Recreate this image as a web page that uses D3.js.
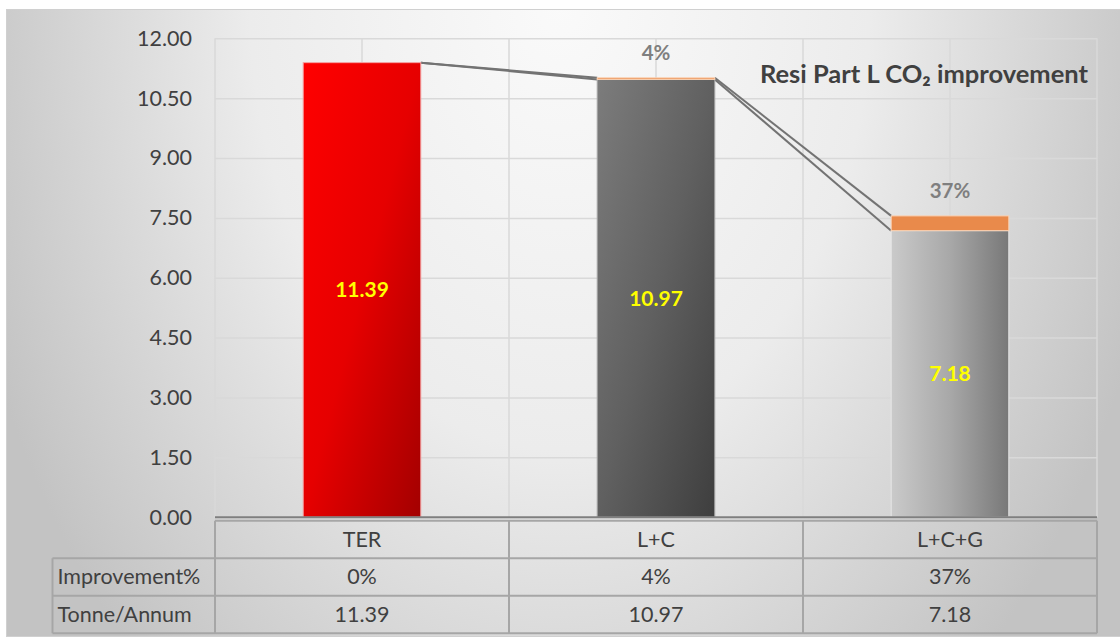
<!DOCTYPE html>
<html>
<head>
<meta charset="utf-8">
<script src="https://cdn.jsdelivr.net/npm/d3@7"></script>
<style>
  body { margin: 0; background: #fff; }
  text { font-family: Lato, "Noto Sans", sans-serif; }
</style>
</head>
<body>
<div id="chart"></div>
<script>
// chart values
var categories = ["TER", "L+C", "L+C+G"];
var tonnes = [11.39, 10.97, 7.18];
var improvement = [0, 0.04, 0.37];
var improvementLabels = ["0%", "4%", "37%"];
var yTicks = [0, 1.5, 3, 4.5, 6, 7.5, 9, 10.5, 12];
var rowLabels = ["Improvement%", "Tonne/Annum"];
var title = "Resi Part L CO\u2082 improvement";

var svg = d3.select("#chart").append("svg")
  .attr("width", 1120)
  .attr("height", 639);

var margin = {top: 38.3, left: 215, right: 23, bottom: 122};
var width = 1120 - margin.left - margin.right,
    height = 639 - margin.top - margin.bottom;

var defs = svg.append("defs");

// chart area background
var bg = defs.append("radialGradient")
  .attr("id", "bg")
  .attr("gradientUnits", "userSpaceOnUse")
  .attr("cx", 0).attr("cy", 0).attr("r", 1)
  .attr("gradientTransform", "translate(560,0) scale(620,900)");
bg.append("stop").attr("offset", "0").attr("stop-color", "#fafafa");
bg.append("stop").attr("offset", "0.5").attr("stop-color", "#ececec");
bg.append("stop").attr("offset", "1").attr("stop-color", "#c3c3c3");

function grad(id, x2, y2, stops) {
  var g = defs.append("linearGradient").attr("id", id)
    .attr("x1", 0).attr("y1", 0).attr("x2", x2).attr("y2", y2);
  stops.forEach(function(s) {
    g.append("stop").attr("offset", s[0]).attr("stop-color", s[1]);
  });
}
grad("red", 1, 1, [[0, "#ff0000"], [0.5, "#e60000"], [1, "#a30000"]]);
grad("dark", 1, 1, [[0, "#7c7c7c"], [0.5, "#606060"], [1, "#3e3e3e"]]);
grad("light", 1, 0, [[0, "#cacaca"], [0.5, "#a8a8a8"], [1, "#787878"]]);

var barFill = ["url(#red)", "url(#dark)", "url(#light)"];
var barStroke = ["#f4a3a3", "#a8a8a8", "#e6e6e6"];

svg.append("rect")
  .attr("x", 6.5).attr("y", 9.5)
  .attr("width", 1120).attr("height", 627)
  .attr("fill", "url(#bg)")
  .attr("stroke", "#d0d0d0");

var g = svg.append("g").attr("transform", "translate(" + margin.left + "," + margin.top + ")");

var x = d3.scaleBand()
  .domain(categories)
  .range([0, width])
  .paddingInner(0.6)
  .paddingOuter(0.3);

var xCat = d3.scaleBand()
  .domain(categories)
  .range([0, width]);

var y = d3.scaleLinear()
  .domain([0, 12])
  .range([height + 0.2, 0]);

// horizontal gridlines
g.append("g")
  .call(d3.axisLeft(y).tickValues(yTicks).tickSize(-width).tickFormat(""))
  .call(function(a) {
    a.select(".domain").remove();
    a.selectAll("line").attr("stroke", "#d9d9d9").attr("stroke-width", 1.5);
  });

// vertical gridlines at category centres and edges
var vLines = [0];
categories.forEach(function(c) { vLines.push(xCat(c) + xCat.bandwidth() / 2, xCat(c) + xCat.bandwidth()); });
g.append("g").selectAll("line")
  .data(vLines)
  .enter().append("line")
    .attr("x1", function(d) { return d; })
    .attr("x2", function(d) { return d; })
    .attr("y1", 0)
    .attr("y2", y(0))
    .attr("stroke", "#d9d9d9")
    .attr("stroke-width", 1.5);

// y tick labels
g.append("g")
  .call(d3.axisLeft(y).tickValues(yTicks).tickSize(0).tickPadding(23).tickFormat(d3.format(".2f")))
  .call(function(a) {
    a.select(".domain").remove();
    a.selectAll("text")
      .attr("fill", "#404040")
      .attr("font-size", 21.5)
      .attr("font-family", "Lato, sans-serif");
  });

// series lines between stacked bars
var tops = tonnes.map(function(v, i) { return v + improvement[i]; });
var links = [];
for (var i = 0; i < categories.length - 1; i++) {
  links.push([i, tonnes[i], tonnes[i + 1]]);
  links.push([i, tops[i], tops[i + 1]]);
}
g.append("g").selectAll("line")
  .data(links)
  .enter().append("line")
    .attr("x1", function(d) { return x(categories[d[0]]) + x.bandwidth(); })
    .attr("y1", function(d) { return y(d[1]); })
    .attr("x2", function(d) { return x(categories[d[0] + 1]); })
    .attr("y2", function(d) { return y(d[2]); })
    .attr("stroke", "#737373")
    .attr("stroke-width", 2);

// tonne bars
g.append("g").selectAll("rect")
  .data(tonnes)
  .enter().append("rect")
    .attr("x", function(d, i) { return x(categories[i]); })
    .attr("y", function(d) { return y(d); })
    .attr("width", x.bandwidth())
    .attr("height", function(d) { return y(0) - y(d); })
    .attr("fill", function(d, i) { return barFill[i]; })
    .attr("stroke", function(d, i) { return barStroke[i]; })
    .attr("stroke-width", 1);

// improvement segments stacked on top
g.append("g").selectAll("rect")
  .data(improvement)
  .enter().append("rect")
    .attr("x", function(d, i) { return x(categories[i]); })
    .attr("y", function(d, i) { return y(tonnes[i] + d); })
    .attr("width", x.bandwidth())
    .attr("height", function(d, i) { return y(tonnes[i]) - y(tonnes[i] + d); })
    .attr("fill", "#e98a4b")
    .attr("stroke", "#fbd2b4")
    .attr("stroke-width", 1)
    .style("display", function(d) { return d > 0 ? null : "none"; });

// value labels inside bars
g.append("g").selectAll("text")
  .data(tonnes)
  .enter().append("text")
    .attr("x", function(d, i) { return x(categories[i]) + x.bandwidth() / 2; })
    .attr("y", function(d) { return y(d / 2); })
    .attr("dy", "0.35em")
    .attr("text-anchor", "middle")
    .attr("font-size", 21)
    .attr("font-weight", "bold")
    .attr("fill", "#ffff00")
    .text(function(d) { return d3.format(".2f")(d); });

// improvement labels above stacks
g.append("g").selectAll("text")
  .data(improvement)
  .enter().append("text")
    .attr("x", function(d, i) { return x(categories[i]) + x.bandwidth() / 2; })
    .attr("y", function(d, i) { return y(tops[i]) - 18; })
    .attr("text-anchor", "middle")
    .attr("font-size", 20.5)
    .attr("font-weight", "bold")
    .attr("fill", "#7f7f7f")
    .text(function(d, i) { return d > 0 ? improvementLabels[i] : ""; });

// title
svg.append("text")
  .attr("x", 1088)
  .attr("y", 83)
  .attr("text-anchor", "end")
  .attr("font-size", 25.5)
  .attr("font-weight", "bold")
  .attr("fill", "#404040")
  .text(title);

// data table under the plot
var tableTop = y(0) + 3.5, rowH = 37.5;
var left = 52.5 - margin.left;
var tbl = g.append("g").attr("stroke", "#a6a6a6").attr("stroke-width", 2);

tbl.append("line").attr("x1", 0).attr("x2", width).attr("y1", tableTop).attr("y2", tableTop);
[1, 2, 3].forEach(function(r) {
  tbl.append("line")
    .attr("x1", left).attr("x2", width)
    .attr("y1", tableTop + r * rowH).attr("y2", tableTop + r * rowH);
});
tbl.append("line").attr("x1", left).attr("x2", left)
  .attr("y1", tableTop + rowH).attr("y2", tableTop + 3 * rowH);
[0].concat(categories.map(function(c) { return xCat(c) + xCat.bandwidth(); })).forEach(function(v) {
  tbl.append("line").attr("x1", v).attr("x2", v)
    .attr("y1", tableTop).attr("y2", tableTop + 3 * rowH);
});

// baseline axis
g.append("line")
  .attr("x1", 0).attr("x2", width)
  .attr("y1", y(0)).attr("y2", y(0))
  .attr("stroke", "#7f7f7f")
  .attr("stroke-width", 2);

// category labels
g.append("g")
  .attr("transform", "translate(0," + (tableTop + rowH / 2) + ")")
  .call(d3.axisBottom(xCat).tickSize(0).tickPadding(0))
  .call(function(a) {
    a.select(".domain").remove();
    a.selectAll("text")
      .attr("dy", "0.35em")
      .attr("fill", "#404040")
      .attr("font-size", 21.5)
      .attr("font-family", "Lato, sans-serif");
  });

var rows = [improvementLabels, tonnes.map(d3.format(".2f"))];
rows.forEach(function(vals, r) {
  var ty = tableTop + (r + 1.5) * rowH;
  g.append("text")
    .attr("x", left + 5)
    .attr("y", ty)
    .attr("dy", "0.35em")
    .attr("font-size", 21.5)
    .attr("fill", "#404040")
    .text(rowLabels[r]);
  g.append("g").selectAll("text")
    .data(vals)
    .enter().append("text")
      .attr("x", function(d, i) { return xCat(categories[i]) + xCat.bandwidth() / 2; })
      .attr("y", ty)
      .attr("dy", "0.35em")
      .attr("text-anchor", "middle")
      .attr("font-size", 21.5)
      .attr("fill", "#404040")
      .text(function(d) { return d; });
});
</script>
</body>
</html>
